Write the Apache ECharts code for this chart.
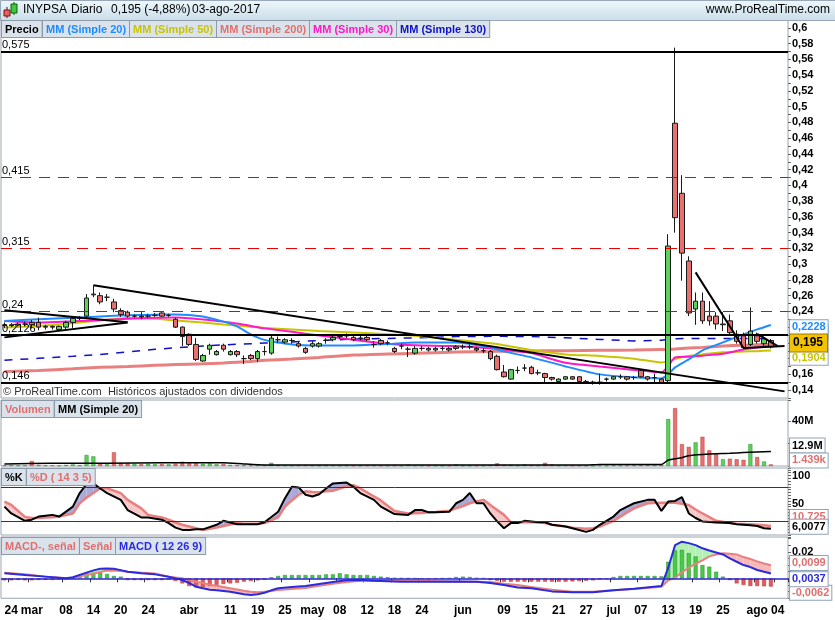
<!DOCTYPE html>
<html>
<head>
<meta charset="utf-8">
<script src="https://cdn.jsdelivr.net/npm/echarts/dist/echarts.min.js"></script>
<style>
  html, body { margin: 0; padding: 0; background: #fff; }
  #chart { width: 835px; height: 620px; }
</style>
</head>
<body>
<div id="chart"></div>
<script>
// trading days shown (last two are empty slots on the right)
const dates = ['02-23','02-24','02-27','02-28','03-01','03-02','03-03','03-06','03-07','03-08','03-09','03-10','03-13','03-14','03-15','03-16','03-17','03-20','03-21','03-22','03-23','03-24','03-27','03-28','03-29','03-30','03-31',
  '04-03','04-04','04-05','04-06','04-07','04-10','04-11','04-12','04-13','04-18','04-19','04-20','04-21','04-24','04-25','04-26','04-27','04-28',
  '05-02','05-03','05-04','05-05','05-08','05-09','05-10','05-11','05-12','05-15','05-16','05-17','05-18','05-19','05-22','05-23','05-24','05-25','05-26','05-29','05-30','05-31',
  '06-01','06-02','06-05','06-06','06-07','06-08','06-09','06-12','06-13','06-14','06-15','06-16','06-19','06-20','06-21','06-22','06-23','06-26','06-27','06-28','06-29','06-30',
  '07-03','07-04','07-05','07-06','07-07','07-10','07-11','07-12','07-13','07-14','07-17','07-18','07-19','07-20','07-21','07-24','07-25','07-26','07-27','07-28','07-31',
  '08-01','08-02','08-03','08-04','08-07'];

const tickDates = ['02-24','03-01','03-08','03-14','03-20','03-24','04-03','04-11','04-19','04-25','05-02','05-08','05-12','05-18','05-24','06-01','06-09','06-15','06-21','06-27','07-03','07-07','07-13','07-19','07-25','08-01','08-04'];
const tickText = ['24','mar','08','14','20','24','abr','11','19','25','may','08','12','18','24','jun','09','15','21','27','jul','07','13','19','25','ago','04'];

// [open, close, low, high]
const ohlc = [
  [0.223,0.222,0.219,0.226],[0.222,0.223,0.220,0.225],[0.223,0.224,0.221,0.226],[0.224,0.224,0.221,0.227],
  [0.226,0.223,0.219,0.229],[0.226,0.220,0.216,0.232],[0.220,0.221,0.217,0.223],[0.221,0.220,0.217,0.222],
  [0.217,0.221,0.215,0.222],[0.220,0.226,0.217,0.228],[0.226,0.231,0.219,0.233],[0.231,0.232,0.229,0.234],
  [0.234,0.257,0.232,0.262],[0.261,0.262,0.258,0.273],[0.260,0.252,0.249,0.264],[0.258,0.258,0.253,0.262],
  [0.252,0.243,0.239,0.256],[0.241,0.236,0.233,0.244],[0.239,0.234,0.232,0.241],[0.234,0.234,0.232,0.236],
  [0.234,0.233,0.230,0.239],[0.234,0.234,0.232,0.237],[0.235,0.235,0.233,0.238],[0.238,0.234,0.233,0.239],
  [0.235,0.235,0.233,0.237],[0.230,0.220,0.219,0.232],[0.220,0.208,0.196,0.221],[0.211,0.198,0.196,0.212],
  [0.198,0.179,0.177,0.206],[0.177,0.184,0.176,0.186],[0.192,0.197,0.185,0.199],[0.185,0.189,0.184,0.191],
  [0.197,0.192,0.189,0.199],[0.185,0.189,0.184,0.191],[0.189,0.185,0.182,0.191],[0.180,0.180,0.173,0.184],
  [0.184,0.180,0.178,0.186],[0.180,0.189,0.176,0.191],[0.189,0.189,0.184,0.196],[0.187,0.206,0.185,0.210],
  [0.204,0.204,0.200,0.208],[0.201,0.204,0.199,0.206],[0.203,0.203,0.199,0.206],[0.199,0.196,0.194,0.202],
  [0.193,0.188,0.186,0.195],[0.196,0.199,0.194,0.202],[0.196,0.199,0.194,0.201],[0.203,0.203,0.199,0.206],
  [0.204,0.207,0.202,0.210],[0.208,0.208,0.205,0.211],[0.209,0.209,0.206,0.212],[0.207,0.204,0.202,0.209],
  [0.206,0.206,0.203,0.209],[0.207,0.204,0.202,0.209],[0.198,0.198,0.194,0.202],[0.203,0.199,0.197,0.205],
  [0.200,0.200,0.197,0.203],[0.193,0.189,0.187,0.195],[0.196,0.196,0.192,0.199],[0.192,0.192,0.182,0.195],
  [0.187,0.193,0.185,0.196],[0.193,0.193,0.190,0.196],[0.193,0.191,0.189,0.195],[0.191,0.193,0.189,0.195],
  [0.193,0.193,0.190,0.196],[0.193,0.191,0.189,0.195],[0.193,0.195,0.191,0.197],[0.195,0.195,0.192,0.198],
  [0.195,0.195,0.192,0.198],[0.193,0.191,0.189,0.195],[0.190,0.190,0.187,0.193],[0.189,0.180,0.178,0.191],
  [0.183,0.166,0.165,0.185],[0.163,0.157,0.156,0.172],[0.154,0.166,0.153,0.167],[0.165,0.165,0.161,0.170],
  [0.168,0.168,0.164,0.173],[0.169,0.161,0.160,0.171],[0.162,0.162,0.159,0.166],[0.161,0.156,0.149,0.162],
  [0.156,0.154,0.152,0.157],[0.151,0.154,0.150,0.155],[0.154,0.157,0.153,0.158],[0.157,0.154,0.153,0.158],
  [0.157,0.151,0.150,0.158],[0.151,0.151,0.149,0.153],[0.150,0.150,0.147,0.152],[0.150,0.150,0.147,0.161],
  [0.154,0.154,0.151,0.156],[0.154,0.157,0.153,0.158],[0.157,0.157,0.154,0.160],[0.157,0.154,0.152,0.158],
  [0.156,0.156,0.153,0.158],[0.165,0.157,0.156,0.166],[0.157,0.154,0.152,0.158],[0.156,0.156,0.150,0.161],
  [0.154,0.149,0.148,0.155],[0.152,0.323,0.150,0.338],[0.479,0.359,0.340,0.575],[0.390,0.314,0.279,0.413],
  [0.304,0.238,0.234,0.310],[0.243,0.253,0.223,0.264],[0.253,0.228,0.224,0.264],[0.234,0.228,0.222,0.253],
  [0.234,0.224,0.217,0.239],[0.223,0.224,0.215,0.239],[0.228,0.213,0.211,0.236],[0.211,0.202,0.199,0.216],
  [0.209,0.194,0.192,0.213],[0.198,0.215,0.196,0.245],[0.209,0.202,0.199,0.213],[0.199,0.205,0.196,0.208],
  [0.203,0.195,0.193,0.205]
];

// moving averages read at these day indices
const maDays = [0,5,10,14,18,22,25,29,32,34,36,38,42,46,51,56,60,66,71,73,77,82,87,92,96,97,98,100,102,105,108,110,112];
const ma20  = [.2277,.2300,.2318,.2336,.2350,.2358,.2362,.2336,.2270,.2210,.2108,.2038,.1981,.1968,.1968,.1985,.2006,.2006,.1943,.1892,.1816,.1701,.1600,.1562,.1549,.1600,.1689,.1790,.1905,.2006,.2108,.2171,.2228];
const ma30  = [.2279,.2260,.2275,.2290,.2305,.2320,.2322,.2298,.2270,.2247,.2215,.2185,.2140,.2095,.2040,.1990,.1970,.1959,.1930,.1915,.1870,.1747,.1700,.1657,.1623,.1705,.1816,.1825,.1838,.1862,.1915,.1940,.1959];
const ma50  = [.2197,.2215,.2250,.2285,.2315,.2305,.2285,.2260,.2235,.2220,.2205,.2190,.2170,.2150,.2133,.2110,.2090,.2040,.1994,.1970,.1910,.1854,.1835,.1800,.1752,.1765,.1795,.1835,.1854,.1882,.1890,.1895,.1904];
const ma130 = [.1778,.1805,.1830,.1854,.1885,.1918,.1938,.1960,.1975,.1982,.1990,.1998,.2012,.2030,.2048,.2057,.2063,.2080,.2083,.2083,.2080,.2065,.2044,.2025,.2035,.2045,.2053,.2055,.2057,.2057,.2057,.2057,.2057];
const ma200 = [.1635,.1650,.1670,.1689,.1700,.1715,.1725,.1735,.1745,.1755,.1765,.1778,.1795,.1815,.1845,.1860,.1867,.1885,.1892,.1895,.1898,.1900,.1905,.1910,.1915,.1917,.1922,.1935,.1943,.1960,.1970,.1976,.1981];

const levels = [0.575, 0.415, 0.315, 0.24, 0.2126, 0.146];
const levelText = ['0,575', '0,415', '0,315', '0,24', '0,2126', '0,146'];
const levelDashed = [false, true, true, true, false, false];

// [from day, from price, to day, to price]
const trendLines = [
  [0, 0.2413, 18, 0.2262],
  [0, 0.2070, 18, 0.2258],
  [13, 0.2731, 114, 0.1384],
  [101, 0.2896, 108, 0.1935],
  [108, 0.1935, 114, 0.1960],
  [110, 0.2114, 113, 0.1960]
];

// volume, millions
const volume = [0.6,0.8,0.5,0.6,4.4,0.9,0.6,0.7,0.5,1.0,
  1.4,0.8,9.8,8.6,2.4,1.6,12.2,2.6,2.2,1.8,
  1.6,2.0,1.6,1.8,1.5,2.2,3.8,2.6,2.8,2.0,
  2.3,1.6,1.8,1.0,0.9,0.6,0.5,1.0,0.8,2.8,
  0.6,0.5,0.4,0.5,0.6,0.4,0.3,0.4,0.5,0.3,
  0.4,0.3,0.3,0.4,0.5,0.3,0.3,0.4,0.3,1.2,
  0.5,0.3,0.3,0.3,0.2,0.3,1.2,0.3,0.3,0.4,
  0.3,0.8,2.4,1.0,0.9,0.4,1.2,0.6,0.4,2.8,
  1.3,0.4,0.5,0.3,0.4,0.3,0.2,0.5,0.3,0.6,
  0.4,0.5,0.6,0.8,0.7,0.9,0.8,41.8,51.5,19.5,
  17.0,21.0,26.0,14.0,10.5,6.0,6.5,6.0,5.5,19.5,
  8.0,4.0,1.44];
const volMaDays = [0,7,15,23,32,35,38,54,85,87,96,97,99,100,103,106,108,112];
const volMa = [1.8,2.4,2.4,3.0,3.0,1.8,0.9,0.9,0.9,1.3,1.3,5.3,7.4,9.2,10.7,11.3,12.0,12.9];

// stochastic %K / %D (14 3 5)
const stochDays = [0,1,3,4,5,6,7,8,10,11,12,13,14,15,17,18,20,21,23,24,25,26,27,28,29,31,32,34,35,37,38,40,41,42,43,44,45,46,47,48,50,51,52,54,55,57,59,60,61,62,63,65,66,67,68,69,70,71,72,73,74,75,76,78,79,80,82,83,85,86,87,89,90,91,92,94,95,96,97,98,99,100,101,102,104,106,107,109,110,111,112];
const stochK = [45,33,20,22,27.5,29,30.5,27.5,45,69,85,86,77,69,57,39,26,26,22,16,8,4,4,5,5,13,20,14,14,14,17.5,36,60,80,79,66,63,67,77,86,87.5,80,69,57,45,32,30.5,39,39,35,35,36,51,57,69,51,51,33,19,7,16,16,20,17.5,17.5,13,10,7,0.5,4,13,27.5,39,45,51,57,57,37.5,54,55,62,33,25,19,17,16,14,12,11,7,6.0077];
const stochD = [54,48,27,25,25,26,26.5,27.5,33,51,61,69,77.5,77.5,69,57,42,30.5,26,22,17,13,10,7,4,8,11,16,15,15,16,26,45,56,66,72,71,70.5,72,73,81,83,77.5,63,56,37.5,33,33.5,34,35,35.5,38,42,46,51,54,57,48,39,30.5,17.5,17.5,17.5,17.5,16,13,10,8,6,7,10,20,27.5,35,42,51,51.5,52,52,52,50,48,40,33,20,16,15,14,13,12,10.725];

// MACD (12 26 9)
const macdDays = [0,3,6,9,10,12,13,14,15,16,17,18,20,22,24,25,26,27,28,29,30,31,33,35,36,37,38,39,40,42,44,46,48,50,52,54,58,62,66,69,71,73,75,77,80,83,86,89,92,96,97,98,99,100,101,102,103,104,105,106,107,108,109,110,111,112];
const macdLine = [0.0038,0.0025,0.0013,0,0.0008,0.0043,0.0060,0.0072,0.0075,0.0072,0.0062,0.0050,0.0038,0.0030,0.0012,0,-0.0013,-0.0035,-0.0063,-0.0075,-0.0085,-0.0090,
  -0.0100,-0.0120,-0.0125,-0.0120,-0.0108,-0.0090,-0.0075,-0.0065,-0.0058,-0.0043,-0.0028,-0.0015,-0.0013,-0.0018,-0.0025,-0.0025,-0.0023,-0.0025,-0.0035,-0.0050,-0.0068,-0.0075,
  -0.0098,-0.0105,-0.0105,-0.0090,-0.0078,-0.0058,0.0080,0.0250,0.0276,0.0265,0.0250,0.0226,0.0210,0.0195,0.0180,0.0150,0.0125,0.0100,0.0085,0.0063,0.0050,0.0037];
const macdSignal = [0.0043,0.0030,0.0013,0,0.0005,0.0025,0.0035,0.0048,0.0058,0.0059,0.0055,0.0050,0.0043,0.0036,0.0013,0.0006,0,-0.0013,-0.0025,-0.0035,-0.0048,-0.0055,
  -0.0075,-0.0093,-0.0100,-0.0105,-0.0100,-0.0095,-0.0088,-0.0080,-0.0073,-0.0055,-0.0040,-0.0028,-0.0018,-0.0018,-0.0018,-0.0020,-0.0025,-0.0025,-0.0028,-0.0040,-0.0050,-0.0065,
  -0.0085,-0.0100,-0.0100,-0.0090,-0.0080,-0.0063,-0.0015,0.0005,0.0045,0.0080,0.0110,0.0135,0.0165,0.0180,0.0188,0.0185,0.0180,0.0160,0.0145,0.0128,0.0112,0.0099];
const macdHist = [-0.0015,-0.0015,-0.0012,-0.0015,-0.0015,-0.0012,-0.0012,-0.0012,-0.0008,
  -0.0005,0.0003,0.0010,
  0.0038,0.0043,0.0043,0.0033,0.0018,0.0013,
  -0.0013,-0.0013,-0.0013,-0.0013,-0.0013,-0.0013,-0.0010,
  -0.0020,-0.0038,-0.0058,-0.0068,-0.0065,-0.0058,-0.0050,-0.0043,-0.0038,-0.0033,-0.0025,-0.0020,-0.0015,-0.0010,
  0.0008,0.0018,0.0025,0.0025,0.0025,0.0025,0.0025,0.0025,0.0030,0.0030,0.0038,0.0030,0.0025,0.0025,0.0025,0.0018,0.0013,0.0008,
  0.0003,0.0002,0.0001,0,-0.0002,-0.0006,-0.0002,0,0.0001,
  0.0010,0.0013,0.0010,0.0003,0.0001,
  -0.0013,-0.0018,-0.0025,-0.0025,-0.0025,-0.0025,-0.0025,-0.0025,-0.0025,-0.0025,-0.0025,-0.0025,-0.0023,-0.0020,-0.0018,-0.0015,-0.0008,-0.0005,
  0.0010,0.0018,0.0018,0.0018,0.0018,0.0018,0.0018,0.0015,
  0.0125,0.0210,0.0215,0.0190,0.0165,0.0100,0.0088,0.0050,0.0013,-0.0013,-0.0038,-0.0050,-0.0058,-0.0058,-0.0060,-0.0062];

const FONT = '"Liberation Sans", Arial, sans-serif';
const UP = '#5cd25c', DOWN = '#e8706e';

const pairs = (days, vals) => days.map((d, i) => [d, vals[i]]);
const isUp = i => ohlc[i][1] >= ohlc[i][0];

// value box on the right edge, hung on an invisible horizontal markLine
function edgeTag(value, text, color, opts) {
  opts = opts || {};
  return {
    yAxis: value,
    lineStyle: { color: 'rgba(0,0,0,0)', width: 0 },
    label: {
      show: true, position: 'end', distance: 2, formatter: text,
      color: color, fontFamily: FONT, fontSize: opts.size || 11, fontWeight: 'bold',
      backgroundColor: opts.bg || '#fff', borderColor: opts.border || '#8fa3b8', borderWidth: 1,
      padding: opts.pad || [2, 2, 1, 2], offset: [0, opts.dy || 0]
    }
  };
}

// filled band between two sampled lines, coloured by which one is above
function bandRender(xs, a, b, upColor, downColor) {
  const poly = (pts, c) => ({ type: 'polygon', shape: { points: pts }, style: { fill: c } });
  return function (params, api) {
    const i = params.dataIndex;
    const a0 = api.coord([xs[i], a[i]]), a1 = api.coord([xs[i + 1], a[i + 1]]);
    const b0 = api.coord([xs[i], b[i]]), b1 = api.coord([xs[i + 1], b[i + 1]]);
    const d0 = a[i] - b[i], d1 = a[i + 1] - b[i + 1];
    const kids = [];
    if (d0 * d1 < 0) {
      const t = d0 / (d0 - d1);
      const m = [a0[0] + (a1[0] - a0[0]) * t, a0[1] + (a1[1] - a0[1]) * t];
      kids.push(poly([a0, m, b0], d0 > 0 ? upColor : downColor));
      kids.push(poly([m, a1, b1], d1 > 0 ? upColor : downColor));
    } else {
      kids.push(poly([a0, a1, b1, b0], (d0 + d1) > 0 ? upColor : downColor));
    }
    return { type: 'group', children: kids };
  };
}

function maLine(name, days, vals, color, width, extra) {
  return Object.assign({
    type: 'line', name: name, xAxisIndex: 0, yAxisIndex: 0,
    data: pairs(days, vals), showSymbol: false, smooth: 0.2, z: 2, clip: false,
    lineStyle: { color: color, width: width }
  }, extra || {});
}

const grids = [
  { left: 1, right: 47, top: 20, height: 378 },
  { left: 1, right: 47, top: 400, height: 66 },
  { left: 1, right: 47, top: 468, height: 67 },
  { left: 1, right: 47, top: 537, height: 61.3 }
].map(g => Object.assign(g, { show: true, backgroundColor: '#fff', borderColor: '#9aa6b2', borderWidth: 1 }));

const xAxes = grids.map((g, i) => ({
  type: 'category', gridIndex: i, data: dates, boundaryGap: true,
  axisLine: { show: false },
  axisTick: i === 3 ? {
    show: true, length: 4, lineStyle: { color: '#333' },
    interval: (idx, val) => tickDates.indexOf(val) >= 0
  } : { show: false },
  axisLabel: i === 3 ? {
    show: true, margin: 6, color: '#000', fontFamily: FONT, fontSize: 12, fontWeight: 'bold',
    interval: (idx, val) => tickDates.indexOf(val) >= 0,
    formatter: val => { const j = tickDates.indexOf(val); return j >= 0 ? tickText[j] : ''; }
  } : { show: false },
  splitLine: { show: false }
}));

const axisLabelBase = { color: '#000', fontFamily: FONT, fontSize: 11, fontWeight: 'bold', margin: 4 };
const yAxes = [
  { gridIndex: 0, min: 0.13, max: 0.6101, interval: 0.01,
    axisLabel: Object.assign({}, axisLabelBase, { formatter: v => { const c = Math.round(v * 100); return c % 2 ? '' : String(c / 100).replace('.', ','); } }) },
  { gridIndex: 1, min: 0, max: 58.7, interval: 20,
    axisLabel: Object.assign({}, axisLabelBase, { formatter: v => Math.abs(v - 40) < 1e-6 ? '40M' : '' }) },
  { gridIndex: 2, min: -5, max: 113.2, interval: 5,
    axisLabel: Object.assign({}, axisLabelBase, { formatter: v => (v === 50 || v === 100) ? String(v) : '' }) },
  { gridIndex: 3, min: -0.015, max: 0.0311, interval: 0.005,
    axisLabel: Object.assign({}, axisLabelBase, { formatter: v => Math.abs(v - 0.02) < 1e-9 ? '0,02' : '' }) }
].map(a => Object.assign({
  type: 'value', position: 'right', scale: true,
  axisLine: { show: false }, splitLine: { show: false },
  axisTick: { show: true, length: 3, lineStyle: { color: '#666' } }
}, a));

const levelMarks = levels.map((v, i) => ({
  yAxis: v,
  lineStyle: levelDashed[i] ? { color: '#ee0000', width: 1, type: [11, 8] } : { color: '#000', width: 2, type: 'solid' },
  label: { show: true, position: 'insideStartTop', distance: 1, formatter: levelText[i], color: '#000', fontFamily: FONT, fontSize: 11 }
}));
const trendMarks = trendLines.map(t => [
  { coord: [dates[t[0]], t[1]], lineStyle: { color: '#000', width: 2, type: 'solid' }, label: { show: false } },
  { coord: [dates[t[2]], t[3]] }
]);

const series = [
  maLine('MM200', maDays, ma200, '#e98080', 3, { markLine: { symbol: 'none', silent: true, data: [edgeTag(0.1981, '0,1981', '#e07070')] } }),
  maLine('MM130', maDays, ma130, '#1010c8', 1.5, { smooth: 0, lineStyle: { color: '#1010c8', width: 1.5, type: [8, 8] },
    markLine: { symbol: 'none', silent: true, data: [edgeTag(0.2057, '0,2057', '#1010c8', { dy: -3 })] } }),
  maLine('MM50', maDays, ma50, '#c8c400', 2, { markLine: { symbol: 'none', silent: true, data: [edgeTag(0.1904, '0,1904', '#c8c400', { dy: 7 })] } }),
  maLine('MM30', maDays, ma30, '#ff18c8', 2),
  maLine('MM20', maDays, ma20, '#1e8cff', 2, { markLine: { symbol: 'none', silent: true, data: [edgeTag(0.2228, '0,2228', '#1e8cff', { border: '#7da6d0' })] } }),
  {
    type: 'candlestick', xAxisIndex: 0, yAxisIndex: 0, data: ohlc, barWidth: 5, z: 3, clip: false,
    itemStyle: { color: UP, color0: DOWN, borderColor: '#1a1a1a', borderColor0: '#1a1a1a', borderColorDoji: '#1a1a1a', borderWidth: 1 },
    markLine: {
      symbol: 'none', silent: true, animation: false,
      data: levelMarks.concat(trendMarks).concat([
        edgeTag(0.195, '0,195', '#000', { size: 12, bg: '#f4c300', border: '#9a7a00', pad: [3, 4, 2, 3] })
      ])
    }
  },
  {
    type: 'bar', xAxisIndex: 1, yAxisIndex: 1, barWidth: 4, z: 2,
    data: volume.map((v, i) => ({ value: v, itemStyle: { color: isUp(i) ? UP : DOWN, borderColor: isUp(i) ? '#2a8a2a' : '#b04040', borderWidth: 0.5 } }))
  },
  {
    type: 'line', xAxisIndex: 1, yAxisIndex: 1, data: pairs(volMaDays, volMa), showSymbol: false, smooth: 0.2, z: 3, clip: false,
    lineStyle: { color: '#000', width: 1.5 },
    markLine: { symbol: 'none', silent: true, data: [
      edgeTag(12.9, '12.9M', '#000', { dy: -6 }),
      edgeTag(1.44, '1.439k', '#e07070', { dy: -4 })
    ] }
  },
  {
    type: 'custom', xAxisIndex: 2, yAxisIndex: 2, clip: true, z: 1, silent: true,
    renderItem: bandRender(stochDays, stochK, stochD, '#aaaad8', '#f6c8c8'),
    data: stochDays.slice(0, -1).map((d, i) => [d, stochK[i], stochD[i]]),
    encode: { x: 0, y: [1, 2] }
  },
  {
    type: 'line', xAxisIndex: 2, yAxisIndex: 2, data: pairs(stochDays, stochD), showSymbol: false, z: 2, clip: false,
    lineStyle: { color: '#e88080', width: 2.5 },
    markLine: { symbol: 'none', silent: true, data: [edgeTag(10.725, '10,725', '#e07070', { dy: -9 })] }
  },
  {
    type: 'line', xAxisIndex: 2, yAxisIndex: 2, data: pairs(stochDays, stochK), showSymbol: false, z: 3, clip: false,
    lineStyle: { color: '#000', width: 2 },
    markLine: { symbol: 'none', silent: true, data: [
      { yAxis: 80, lineStyle: { color: '#2424c0', width: 1, type: 'solid' }, label: { show: false } },
      { yAxis: 20, lineStyle: { color: '#2424c0', width: 1, type: 'solid' }, label: { show: false } },
      edgeTag(6.0077, '6,0077', '#000', { dy: -2 })
    ] }
  },
  {
    type: 'custom', xAxisIndex: 3, yAxisIndex: 3, clip: true, z: 1, silent: true,
    renderItem: bandRender(macdDays, macdLine, macdSignal, '#b4f0b4', '#f6b8b8'),
    data: macdDays.slice(0, -1).map((d, i) => [d, macdLine[i], macdSignal[i]]),
    encode: { x: 0, y: [1, 2] }
  },
  {
    type: 'bar', xAxisIndex: 3, yAxisIndex: 3, barWidth: 4, z: 2,
    data: macdHist.map(v => ({ value: v, itemStyle: { color: v >= 0 ? '#44cc44' : '#e05a5a', borderColor: v >= 0 ? '#2a8a2a' : '#b04040', borderWidth: 0.5 } }))
  },
  {
    type: 'line', xAxisIndex: 3, yAxisIndex: 3, data: pairs(macdDays, macdSignal), showSymbol: false, z: 3, clip: false,
    lineStyle: { color: '#e88080', width: 2 },
    markLine: { symbol: 'none', silent: true, data: [
      edgeTag(0.0099, '0,0099', '#e07070', { dy: -2 }),
      edgeTag(-0.0062, '-0,0062', '#e07070', { dy: 1 })
    ] }
  },
  {
    type: 'line', xAxisIndex: 3, yAxisIndex: 3, data: pairs(macdDays, macdLine), showSymbol: false, z: 4, clip: false,
    lineStyle: { color: '#2a2ae0', width: 2 },
    markLine: { symbol: 'none', silent: true, data: [
      { yAxis: 0, lineStyle: { color: '#2424d0', width: 1.5, type: 'solid' }, label: { show: false } },
      edgeTag(0.0037, '0,0037', '#2a2ae0', { dy: 1 })
    ] }
  }
];

// legend boxes laid side by side, each as wide as its text
const TAG_FONT = 'bold 11px ' + FONT;
const measure = document.createElement('canvas').getContext('2d');
measure.font = TAG_FONT;
function tagRow(x, y, items) {
  return items.map(([text, color]) => {
    const el = {
      type: 'text', left: x, top: y, z: 100,
      style: { text: text, fill: color, font: TAG_FONT, backgroundColor: '#dae3eb', borderColor: '#8d9aa8', borderWidth: 1, padding: [3, 3, 2, 3] }
    };
    x += Math.round(measure.measureText(text).width) + 7;
    return el;
  });
}

const graphics = [
  { type: 'rect', left: 0, top: 0, z: 90, shape: { width: 835, height: 20 },
    style: { fill: new echarts.graphic.LinearGradient(0, 0, 0, 1, [{ offset: 0, color: '#eef8fc' }, { offset: 1, color: '#c9dde9' }]), stroke: '#98a8b8', lineWidth: 1 } },
  { type: 'line', z: 95, shape: { x1: 7, y1: 7, x2: 7, y2: 18 }, style: { stroke: '#700', lineWidth: 1 } },
  { type: 'rect', z: 96, shape: { x: 4, y: 10, width: 6, height: 6 }, style: { fill: '#e86060', stroke: '#7a1010', lineWidth: 1 } },
  { type: 'line', z: 95, shape: { x1: 14, y1: 2, x2: 14, y2: 15 }, style: { stroke: '#060', lineWidth: 1 } },
  { type: 'rect', z: 96, shape: { x: 11, y: 4, width: 6, height: 9 }, style: { fill: '#40c840', stroke: '#0a600a', lineWidth: 1 } },
  { type: 'text', left: 23, top: 4, z: 100, style: { text: 'INYPSA', fill: '#000', font: '12px ' + FONT } },
  { type: 'text', left: 71, top: 4, z: 100, style: { text: 'Diario', fill: '#000', font: '12px ' + FONT } },
  { type: 'text', left: 111, top: 4, z: 100, style: { text: '0,195 (-4,88%)', fill: '#000', font: '12px ' + FONT } },
  { type: 'text', left: 192, top: 4, z: 100, style: { text: '03-ago-2017', fill: '#000', font: '12px ' + FONT } },
  { type: 'text', right: 5, top: 4, z: 100, style: { text: 'www.ProRealTime.com', fill: '#000', font: '12px ' + FONT } },
  { type: 'text', left: 3, top: 386, z: 100, style: { text: '© ProRealTime.com  Históricos ajustados con dividendos', fill: '#333', font: '11px ' + FONT } }
].concat(
  tagRow(1, 20, [['Precio', '#000'], ['MM (Simple 20)', '#1e8cff'], ['MM (Simple 50)', '#c8c400'], ['MM (Simple 200)', '#e07070'], ['MM (Simple 30)', '#ff18c8'], ['MM (Simple 130)', '#1010c8']]),
  tagRow(1, 400, [['Volumen', '#e07070'], ['MM (Simple 20)', '#000']]),
  tagRow(1, 468, [['%K', '#000'], ['%D ( 14 3 5)', '#e07070']]),
  tagRow(1, 537, [['MACD-, señal', '#e07070'], ['Señal', '#e07070'], ['MACD ( 12 26 9)', '#2a2ae0']])
);

const chart = echarts.init(document.getElementById('chart'), null, { renderer: 'canvas' });
chart.setOption({
  animation: false,
  backgroundColor: '#fff',
  grid: grids,
  xAxis: xAxes,
  yAxis: yAxes,
  series: series,
  graphic: graphics
});
</script>
</body>
</html>
